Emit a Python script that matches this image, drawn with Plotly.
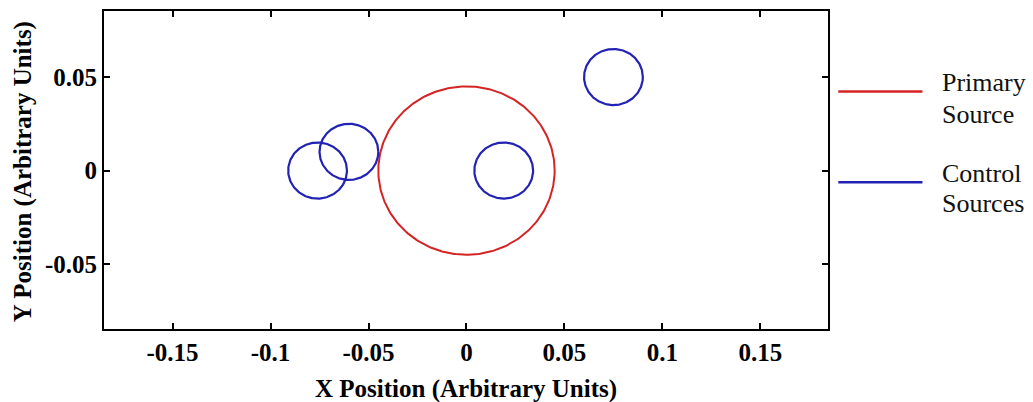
import numpy as np
import plotly.graph_objects as go

# Source layout: centre x, centre y, radius (arbitrary units)
primary_x = [0.0]
primary_y = [0.0]
primary_r = [0.045]

control_x = [-0.076, -0.060, 0.019, 0.075]
control_y = [0.0, 0.010, 0.0, 0.050]
control_r = [0.015, 0.015, 0.015, 0.015]

x_ticks = [-0.15, -0.1, -0.05, 0, 0.05, 0.1, 0.15]
x_tick_labels = ["-0.15", "-0.1", "-0.05", "0", "0.05", "0.1", "0.15"]
y_ticks = [-0.05, 0, 0.05]
y_tick_labels = ["-0.05", "0", "0.05"]

RED = "#d42424"
BLUE = "#2222b4"
SERIF = "Liberation Serif, Times New Roman, DejaVu Serif, serif"

theta = np.linspace(0, 2 * np.pi, 361)


def ring(cx, cy, r):
    return cx + r * np.cos(theta), cy + r * np.sin(theta)


fig = go.Figure()

for cx, cy, r in zip(primary_x, primary_y, primary_r):
    xs, ys = ring(cx, cy, r)
    fig.add_trace(go.Scatter(x=xs, y=ys, mode="lines",
                             line=dict(color=RED, width=2),
                             showlegend=False, hoverinfo="skip"))

for cx, cy, r in zip(control_x, control_y, control_r):
    xs, ys = ring(cx, cy, r)
    fig.add_trace(go.Scatter(x=xs, y=ys, mode="lines",
                             line=dict(color=BLUE, width=2.2),
                             showlegend=False, hoverinfo="skip"))

tick_font = dict(family=SERIF, size=25, color="black", weight="bold")
axis_common = dict(
    showline=True, linecolor="black", linewidth=2, mirror="ticks",
    ticks="inside", ticklen=6, tickwidth=2, tickcolor="black",
    showgrid=False, zeroline=False, tickfont=tick_font,
)

fig.update_xaxes(range=[-0.185, 0.1845], tickvals=x_ticks,
                 ticktext=x_tick_labels, **axis_common)
fig.update_yaxes(range=[-0.0847, 0.0853], tickvals=y_ticks,
                 ticktext=y_tick_labels, **axis_common)

title_font = dict(family=SERIF, size=25, color="black", weight="bold")
legend_font = dict(family=SERIF, size=26, color="#111111")

annotations = [
    dict(text="X Position (Arbitrary Units)", x=0.5, y=-0.19, xref="paper",
         yref="paper", xanchor="center", yanchor="middle", showarrow=False,
         font=title_font),
    dict(text="Y Position (Arbitrary Units)", x=-0.112, y=0.496, xref="paper",
         yref="paper", xanchor="center", yanchor="middle", showarrow=False,
         textangle=-90, font=title_font),
]

# Hand-drawn legend to the right of the axes
legend_items = [
    (RED, 0.7465, ["Primary", "Source"], 0.775, 0.675),
    (BLUE, 0.4617, ["Control", "Sources"], 0.49, 0.395),
]
shapes = []
for color, ly, words, ty1, ty2 in legend_items:
    shapes.append(dict(type="line", xref="paper", yref="paper",
                       x0=1.0142, x1=1.1305, y0=ly, y1=ly,
                       line=dict(color=color, width=2.5)))
    for word, ty in zip(words, [ty1, ty2]):
        annotations.append(dict(text=word, x=1.1552, y=ty, xref="paper",
                                yref="paper", xanchor="left", yanchor="middle",
                                showarrow=False, font=legend_font))

fig.update_layout(
    width=1033, height=402,
    margin=dict(l=104, r=205, t=9, b=73),
    plot_bgcolor="white", paper_bgcolor="white",
    showlegend=False,
    annotations=annotations, shapes=shapes,
)

fig.write_html("out.html")
